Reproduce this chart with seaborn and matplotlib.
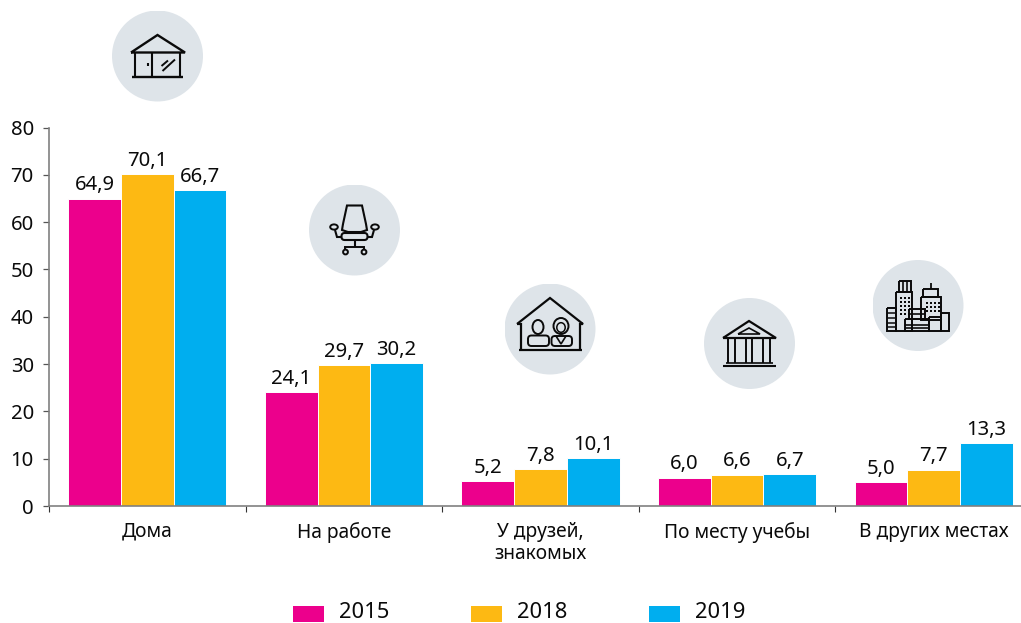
import matplotlib
matplotlib.use("Agg")
import matplotlib.pyplot as plt
import numpy as np
import pandas as pd
import seaborn as sns
from matplotlib.patches import Circle, Rectangle, Ellipse, FancyBboxPatch
from matplotlib.transforms import Affine2D

categories = ["Дома", "На работе", "У друзей,\nзнакомых", "По месту учебы", "В других местах"]
years = ["2015", "2018", "2019"]
values_2015 = [64.9, 24.1, 5.2, 6.0, 5.0]
values_2018 = [70.1, 29.7, 7.8, 6.6, 7.7]
values_2019 = [66.7, 30.2, 10.1, 6.7, 13.3]
palette = ["#EC008C", "#FDB913", "#00AEEF"]

W, H = 1021, 623
sns.set_theme(style="white")
plt.rcParams["font.family"] = ["Noto Sans", "DejaVu Sans"]

df = pd.DataFrame({"cat": categories * 3,
                   "year": sum([[y] * 5 for y in years], []),
                   "val": values_2015 + values_2018 + values_2019})

fig = plt.figure(figsize=(W / 100, H / 100), dpi=100, facecolor="white")
L, R, T, B = 49, 1032, 127.5, 506
ax = fig.add_axes([L / W, 1 - B / H, (R - L) / W, (B - T) / H])
sns.barplot(data=df, x="cat", y="val", hue="year", palette=palette, saturation=1,
            width=0.805, gap=0, edgecolor="white", linewidth=0.7, legend=False, ax=ax)
ax.set_xlim(-0.5, 4.5)
ax.set_ylim(0, 80)
ax.set_xlabel("")
ax.set_ylabel("")
for c, vals in zip(ax.containers, [values_2015, values_2018, values_2019]):
    ax.bar_label(c, labels=[f"{v:.1f}".replace(".", ",") for v in vals],
                 padding=2.5, fontsize=14.6, color="#0a0a0a")
for s in ["top", "right"]:
    ax.spines[s].set_visible(False)
for s in ["left", "bottom"]:
    ax.spines[s].set_color("#808080")
    ax.spines[s].set_linewidth(1.2)
ax.set_yticks(range(0, 81, 10))
ax.set_xticks(np.arange(-0.5, 4.6, 1), minor=False, labels=[""] * 6)
ax.tick_params(axis="x", length=4, width=0.8, color="#333333", bottom=True)
ax.tick_params(axis="y", length=4.4, width=0.9, color="#555555", left=True,
               labelsize=14.6, labelcolor="#0a0a0a", pad=6.5)
for i, c in enumerate(categories):
    ax.text(i, -3.35, c, ha="center", va="top", fontsize=13.8, color="#0a0a0a",
            linespacing=1.15, clip_on=False)

# legend (pixel positions)
px = Affine2D().scale(1, -1).translate(0, H)
leg_x = [293, 471, 649]
for x, y, col in zip(leg_x, years, palette):
    fig.add_artist(Rectangle((x, 606), 31, 16, color=col, transform=px, lw=0))
    fig.text((x + 46) / W, 1 - 612.5 / H, y, fontsize=15.8, va="center", color="#0a0a0a")

# icon helpers
def icon_ax(cx, cy, r=45.5):
    a = fig.add_axes([(cx - r) / W, 1 - (cy + r) / H, 2 * r / W, 2 * r / H], zorder=5)
    a.set_xlim(cx - r, cx + r)
    a.set_ylim(cy + r, cy - r)
    a.axis("off")
    a.add_patch(Circle((cx, cy), r, color="#DEE4E9", lw=0))
    return a

def ln(a, xs, ys, lw=1.5):
    a.plot(xs, ys, color="#0a0a0a", lw=lw, solid_capstyle="butt", solid_joinstyle="miter")

def box(a, x0, y0, x1, y1, lw=1.4):
    ln(a, [x0, x1, x1, x0, x0], [y0, y0, y1, y1, y0], lw)

def ring(a, x, y, r, lw=1.4, ry=None):
    a.add_patch(Ellipse((x, y), 2 * r, 2 * (ry or r), fc="none", ec="#0a0a0a", lw=lw))

def rbox(a, x, y, w, h, rad, lw=1.4):
    a.add_patch(FancyBboxPatch((x, y), w, h, boxstyle=f"round,pad=0,rounding_size={rad}",
                               fc="none", ec="#0a0a0a", lw=lw))

# house
a = icon_ax(157.5, 56)
ln(a, [131, 157.5, 185, 131], [52.5, 35, 52.5, 52.5], 1.7)
ln(a, [135, 135], [52, 77]); ln(a, [180, 180], [52, 77]); ln(a, [152, 152], [52, 77])
ln(a, [132, 183], [77, 77], 1.7)
ln(a, [148, 148], [63, 66], 1.5)
ln(a, [162.5, 175], [71, 59.5], 1.4); ln(a, [161.5, 168], [66, 60.5], 1.4)

# chair
a = icon_ax(354.5, 230)
ln(a, [343, 347, 362, 366, 367, 361, 348, 342, 343], [224, 205.5, 205.5, 224, 230, 232, 232, 230, 224], 1.5)
rbox(a, 341.5, 233, 26, 7, 3.2, 1.5)
ring(a, 334, 227, 3.8, 1.4, 2.6); ring(a, 375, 227, 3.8, 1.4, 2.6)
ln(a, [335, 337, 341.5], [230, 237, 237]); ln(a, [374, 372, 367.5], [230, 237, 237])
ln(a, [354.5, 354.5], [240, 247], 1.5); ln(a, [345, 345, 364, 364], [250, 247, 247, 250], 1.4)
ring(a, 345.5, 252, 2.4); ring(a, 364, 252, 2.4)

# people in house
a = icon_ax(550, 329)
ln(a, [517, 550, 583, 580, 580], [324, 298, 324, 324, 350], 1.6)
ln(a, [517, 521, 521], [324, 324, 350], 1.6); ln(a, [519, 582], [350, 350], 1.6)
ring(a, 538, 327, 5.5, 1.4, 7)
rbox(a, 528, 335.5, 21, 10.5, 3.5)
ring(a, 561, 326, 7.5, 1.4, 8); ring(a, 561, 327.5, 4.2, 1.1, 4.8)
rbox(a, 551.5, 336, 20.5, 10, 3.5)
ln(a, [556, 561, 566], [336, 344, 336], 1.2)

# institution
a = icon_ax(749.5, 343.5)
ln(a, [723, 749, 776, 723], [338, 321, 338, 338], 1.6)
ln(a, [738, 749, 760, 738], [334, 328, 334, 334], 1.2)
for x in [728, 735, 746, 752, 763, 770]:
    ln(a, [x, x], [339, 363], 1.4)
ln(a, [726, 773], [363, 363], 1.2); ln(a, [723, 776], [366, 366], 1.5)

# city
a = icon_ax(918, 305.5)
box(a, 896, 292, 912, 331)
box(a, 899, 281, 911, 292); ln(a, [903, 903], [281, 292], 1.2); ln(a, [907, 907], [281, 292], 1.2)
box(a, 887, 308, 896, 331)
for y in [313, 318, 323, 327]:
    ln(a, [887, 896], [y, y], 1.1)
box(a, 921, 297, 941, 320); box(a, 923, 289, 938, 297); ln(a, [931, 931], [283, 289], 1.3)
box(a, 941, 313, 949, 331); box(a, 929, 317, 941, 331)
box(a, 905, 319, 929, 331); box(a, 909, 309, 925, 319)
ln(a, [905, 929], [325, 325], 1.2); ln(a, [905, 929], [328, 328], 1.2); ln(a, [909, 925], [314, 314], 1.2)
for gx in [900, 904, 908]:
    for gy in [297, 301, 305, 309, 313]:
        a.add_patch(Rectangle((gx, gy), 1.7, 1.7, color="#0a0a0a", lw=0))
for gx in [926, 930, 934, 938]:
    for gy in [302, 306, 310]:
        a.add_patch(Rectangle((gx, gy), 1.7, 1.7, color="#0a0a0a", lw=0))

fig.savefig("out.png", dpi=100)
